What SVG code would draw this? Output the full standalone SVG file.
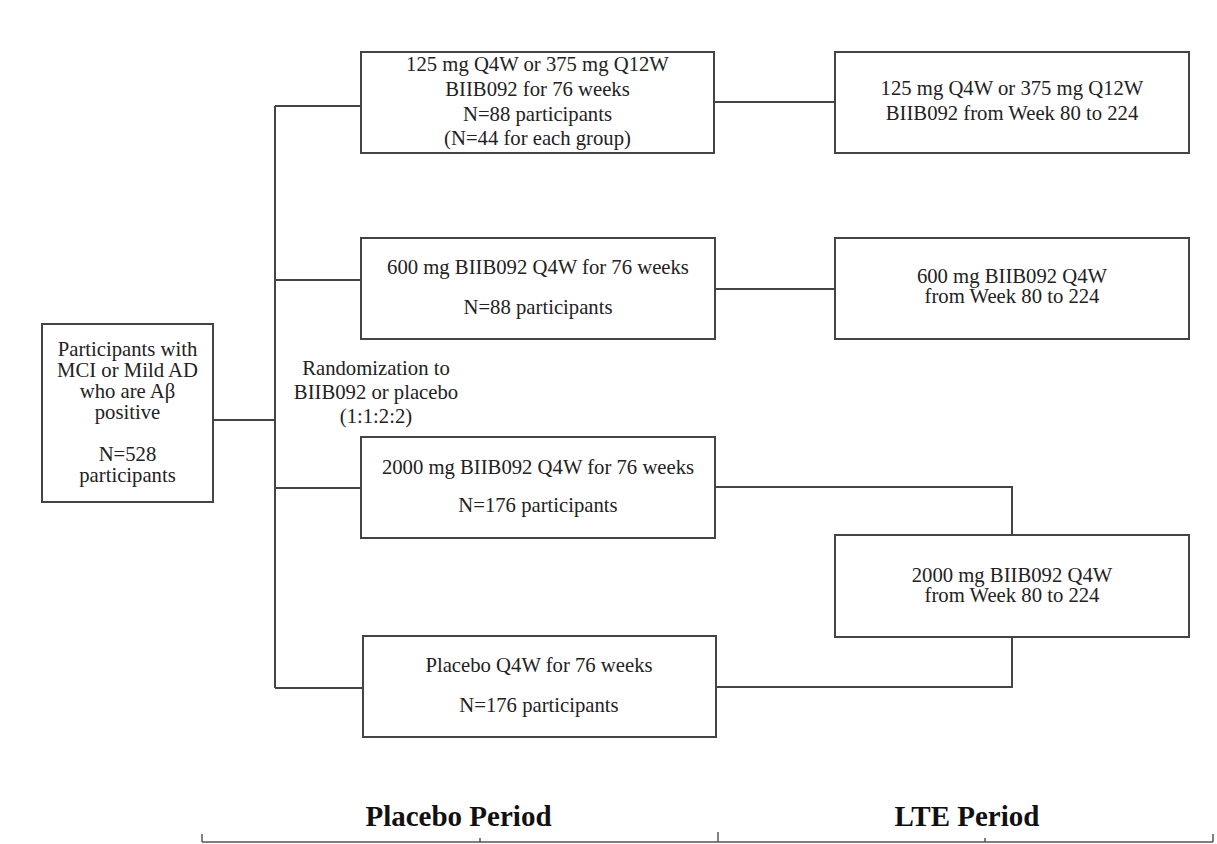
<svg xmlns="http://www.w3.org/2000/svg" width="1217" height="844" viewBox="0 0 1217 844">
<style>
.box{fill:#fff;stroke:#444;stroke-width:2}
.ln{fill:none;stroke:#444;stroke-width:2}
.ax{fill:none;stroke:#555;stroke-width:1.5}
text{font-family:"Liberation Serif","Times New Roman",serif;font-size:20.7px;fill:#222;text-anchor:middle}
.hd{font-size:29px;font-weight:bold;fill:#111}
</style>
<rect width="1217" height="844" fill="#fff"/>
<g id="connectors">
<path class="ln" d="M213,420 H275"/>
<path class="ln" d="M275,106 V688"/>
<path class="ln" d="M275,106 H361"/>
<path class="ln" d="M275,280 H361"/>
<path class="ln" d="M275,488 H361"/>
<path class="ln" d="M275,688 H363"/>
<path class="ln" d="M714,102 H835"/>
<path class="ln" d="M715,289 H835"/>
<path class="ln" d="M715,487 H1012 V535"/>
<path class="ln" d="M716,687 H1012 V637"/>
</g>
<g id="start">
<rect class="box" x="42" y="324" width="171" height="178"/>
<text x="127.5" y="356">Participants with</text>
<text x="127.5" y="377">MCI or Mild AD</text>
<text x="127.5" y="398">who are Aβ</text>
<text x="127.5" y="419">positive</text>
<text x="127.5" y="461">N=528</text>
<text x="127.5" y="482">participants</text>
</g>
<g id="randomization">
<text x="376" y="375">Randomization to</text>
<text x="376" y="399">BIIB092 or placebo</text>
<text x="376" y="423">(1:1:2:2)</text>
</g>
<g id="arm1">
<rect class="box" x="361" y="52" width="353" height="101"/>
<text x="537.5" y="71">125 mg Q4W or 375 mg Q12W</text>
<text x="537.5" y="96">BIIB092 for 76 weeks</text>
<text x="537.5" y="121">N=88 participants</text>
<text x="537.5" y="145">(N=44 for each group)</text>
</g>
<g id="lte1">
<rect class="box" x="835" y="52" width="354" height="101"/>
<text x="1012" y="95">125 mg Q4W or 375 mg Q12W</text>
<text x="1012" y="120">BIIB092 from Week 80 to 224</text>
</g>
<g id="arm2">
<rect class="box" x="361" y="238" width="354" height="101"/>
<text x="538" y="274">600 mg BIIB092 Q4W for 76 weeks</text>
<text x="538" y="314">N=88 participants</text>
</g>
<g id="lte2">
<rect class="box" x="835" y="238" width="354" height="101"/>
<text x="1012" y="283">600 mg BIIB092 Q4W</text>
<text x="1012" y="303">from Week 80 to 224</text>
</g>
<g id="arm3">
<rect class="box" x="361" y="437" width="354" height="101"/>
<text x="538" y="474">2000 mg BIIB092 Q4W for 76 weeks</text>
<text x="538" y="512">N=176 participants</text>
</g>
<g id="lte3">
<rect class="box" x="835" y="535" width="354" height="102"/>
<text x="1012" y="582">2000 mg BIIB092 Q4W</text>
<text x="1012" y="602">from Week 80 to 224</text>
</g>
<g id="arm4">
<rect class="box" x="363" y="636" width="353" height="101"/>
<text x="539" y="672">Placebo Q4W for 76 weeks</text>
<text x="539" y="712">N=176 participants</text>
</g>
<g id="axis">
<path class="ax" d="M202,842 H1213 M202,834 V842 M718,832 V842 M1213,834 V842 M480,838 V842 M985,838 V842"/>
<text class="hd" x="458.5" y="826">Placebo Period</text>
<text class="hd" x="967" y="826">LTE Period</text>
</g>
</svg>
